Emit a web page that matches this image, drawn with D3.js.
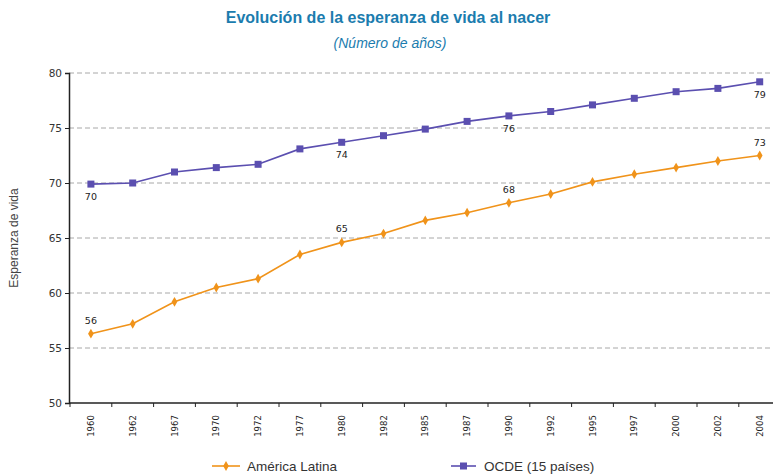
<!DOCTYPE html>
<html><head><meta charset="utf-8">
<script src="https://cdn.jsdelivr.net/npm/d3@7"></script>
<style>body{margin:0;background:#fff}svg{display:block}</style>
</head><body><svg id="c" width="773" height="476"></svg>
<script>
const years = ["1960","1962","1967","1970","1972","1977","1980","1982","1985","1987","1990","1992","1995","1997","2000","2002","2004"];
const latam = [56.3,57.2,59.2,60.5,61.3,63.5,64.6,65.4,66.6,67.3,68.2,69.0,70.1,70.8,71.4,72.0,72.5];
const ocde  = [69.9,70.0,71.0,71.4,71.7,73.1,73.7,74.3,74.9,75.6,76.1,76.5,77.1,77.7,78.3,78.6,79.2];
const latamLabels = {"1960":"56","1980":"65","1990":"68","2004":"73"};
const ocdeLabels  = {"1960":"70","1980":"74","1990":"76","2004":"79"};
const yTicks = [50,55,60,65,70,75,80];

const svg = d3.select("#c");
const x0 = 70, step = 41.8;
const x = d3.scaleBand().domain(years).range([x0, x0 + step*years.length]);
const y = d3.scaleLinear().domain([50,80]).range([403,73]);
const cx = d => x(d) + x.bandwidth()/2;

// title
svg.append("text").attr("x",388).attr("y",23).attr("text-anchor","middle")
  .attr("font-family","Liberation Sans Narrow, Arial Narrow, Liberation Sans, sans-serif")
  .attr("font-weight","bold").attr("font-size",16).attr("fill","#1b7cae")
  .text("Evolución de la esperanza de vida al nacer");
svg.append("text").attr("x",390).attr("y",48).attr("text-anchor","middle")
  .attr("font-family","Liberation Sans, Arial, sans-serif")
  .attr("font-style","italic").attr("font-size",14).attr("fill","#1b7cae")
  .text("(Número de años)");

// gridlines
svg.append("g").selectAll("line").data(yTicks.filter(v=>v>50)).join("line")
  .attr("x1",69).attr("x2",773).attr("y1",d=>y(d)).attr("y2",d=>y(d))
  .attr("stroke","#a8a8a8").attr("stroke-width",1).attr("stroke-dasharray","5,3");

// y axis
const ya = svg.append("g").attr("transform","translate(69,0)")
  .call(d3.axisLeft(y).tickValues(yTicks).tickSize(4).tickPadding(3));
ya.select(".domain").attr("stroke","#222").attr("stroke-width",1.5);
ya.selectAll(".tick line").attr("stroke","#222");
ya.selectAll("text").attr("font-family","DejaVu Sans, sans-serif").attr("font-size",10.5).attr("fill","#333");

// x axis
const xa = svg.append("g").attr("transform","translate(0,403)")
  .call(d3.axisBottom(x).tickSize(0).tickPadding(0));
xa.select(".domain").remove();
svg.append("line").attr("x1",69).attr("x2",773).attr("y1",403).attr("y2",403).attr("stroke","#222").attr("stroke-width",1.5);
svg.append("g").selectAll("line").data(years).join("line")
  .attr("x1",d=>x(d)).attr("x2",d=>x(d)).attr("y1",403).attr("y2",407).attr("stroke","#222");
xa.selectAll("text")
  .attr("font-family","DejaVu Sans, sans-serif").attr("font-size",8.5).attr("fill","#222")
  .attr("text-anchor","middle").attr("dy",null)
  .attr("transform","translate(0,23) rotate(-90)").attr("dominant-baseline","central");

// y label
svg.append("text").attr("transform","translate(18,238) rotate(-90)").attr("text-anchor","middle")
  .attr("font-family","Liberation Sans, Arial, sans-serif").attr("font-size",12).attr("fill","#444")
  .text("Esperanza de vida");

const line = d3.line().x((d,i)=>cx(years[i])).y(d=>y(d));
const orange = "#f0931a", blue = "#5b4fb0";

svg.append("path").datum(latam).attr("d",line).attr("fill","none").attr("stroke",orange).attr("stroke-width",1.6);
svg.append("path").datum(ocde).attr("d",line).attr("fill","none").attr("stroke",blue).attr("stroke-width",1.6);

svg.append("g").selectAll("path").data(latam).join("path")
  .attr("d",d3.symbol(d3.symbolDiamond,28))
  .attr("transform",(d,i)=>`translate(${cx(years[i])},${y(d)})`).attr("fill",orange);
svg.append("g").selectAll("rect").data(ocde).join("rect")
  .attr("x",(d,i)=>cx(years[i])-3.5).attr("y",d=>y(d)-3.5).attr("width",7).attr("height",7).attr("fill",blue);

// data labels
const lf = "DejaVu Sans, sans-serif";
svg.append("g").selectAll("text").data(years.filter(yr=>latamLabels[yr])).join("text")
  .attr("x",d=>cx(d)).attr("y",d=>y(latam[years.indexOf(d)])-10).attr("text-anchor","middle")
  .attr("font-family",lf).attr("font-size",9.5).attr("fill","#222").text(d=>latamLabels[d]);
svg.append("g").selectAll("text").data(years.filter(yr=>ocdeLabels[yr])).join("text")
  .attr("x",d=>cx(d)).attr("y",d=>y(ocde[years.indexOf(d)])+16).attr("text-anchor","middle")
  .attr("font-family",lf).attr("font-size",9.5).attr("fill","#222").text(d=>ocdeLabels[d]);

// legend
const lg = svg.append("g");
lg.append("line").attr("x1",212).attr("x2",240).attr("y1",466).attr("y2",466).attr("stroke",orange).attr("stroke-width",1.6);
lg.append("path").attr("d",d3.symbol(d3.symbolDiamond,28)).attr("transform","translate(226,466)").attr("fill",orange);
lg.append("text").attr("x",247).attr("y",471).attr("font-family","Liberation Sans, Arial, sans-serif").attr("font-size",13.5).attr("fill","#333").text("América Latina");
lg.append("line").attr("x1",451).attr("x2",476).attr("y1",466).attr("y2",466).attr("stroke",blue).attr("stroke-width",1.6);
lg.append("rect").attr("x",460).attr("y",462.5).attr("width",7).attr("height",7).attr("fill",blue);
lg.append("text").attr("x",484).attr("y",471).attr("font-family","Liberation Sans, Arial, sans-serif").attr("font-size",13.5).attr("fill","#333").text("OCDE (15 países)");
</script></body></html>
